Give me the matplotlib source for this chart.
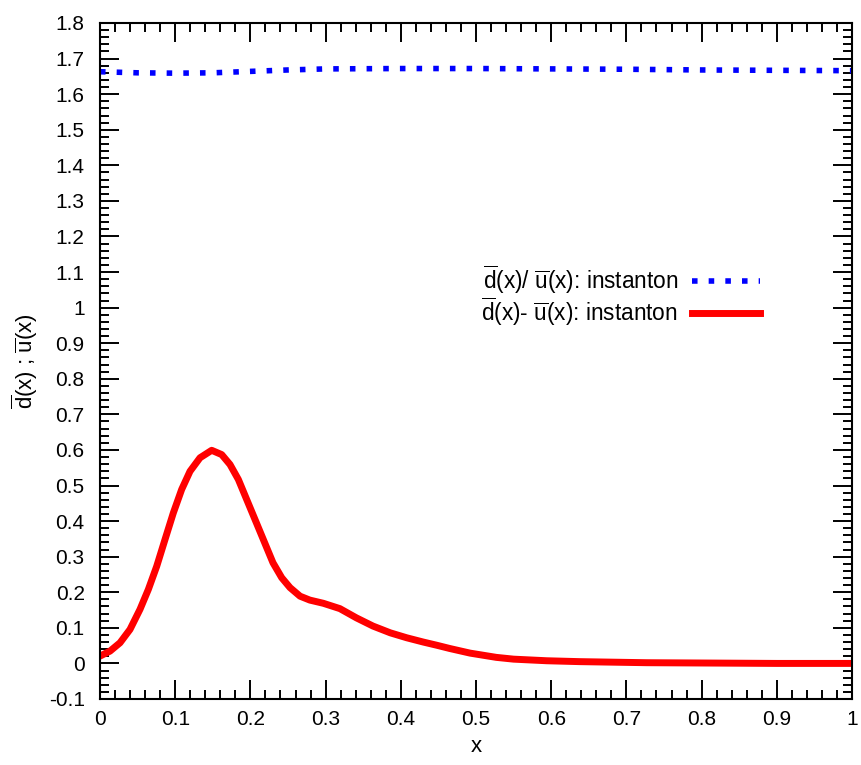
import matplotlib
matplotlib.use('Agg')
import matplotlib.pyplot as plt
from matplotlib.ticker import MultipleLocator

# ratio curve (blue dotted)
ratio_x = [0, 0.05, 0.1, 0.15, 0.2, 0.25, 0.3, 0.4, 0.5, 0.6, 0.7, 0.8, 0.9, 1.0]
ratio_y = [1.663, 1.660, 1.659, 1.660, 1.664, 1.668, 1.671, 1.672, 1.672, 1.671, 1.670, 1.668, 1.667, 1.666]

# difference curve (red solid)
diff_x = [0, 0.0133, 0.0266, 0.0399, 0.0532, 0.0643, 0.0754, 0.0864, 0.0975, 0.1086,
          0.1197, 0.133, 0.1485, 0.1618, 0.1729, 0.184, 0.195, 0.208, 0.219, 0.230,
          0.2416, 0.2527, 0.266, 0.279, 0.297, 0.319, 0.341, 0.363, 0.386, 0.408,
          0.43, 0.448, 0.465, 0.492, 0.527, 0.55, 0.594, 0.638, 0.727, 0.815, 0.9, 1.0]
diff_y = [0.0206, 0.0346, 0.058, 0.0955, 0.152, 0.208, 0.273, 0.348, 0.423, 0.489,
          0.540, 0.578, 0.599, 0.587, 0.559, 0.517, 0.461, 0.395, 0.339, 0.283,
          0.241, 0.213, 0.189, 0.178, 0.169, 0.154, 0.128, 0.105, 0.086, 0.072,
          0.060, 0.051, 0.042, 0.029, 0.017, 0.012, 0.0075, 0.005, 0.002, 0.001, 0.0, 0.0]

ratio_label = r'$\overline{\mathrm{d}}$(x)/ $\overline{\mathrm{u}}$(x): instanton'
diff_label = r'$\overline{\mathrm{d}}$(x)- $\overline{\mathrm{u}}$(x): instanton'
y_label = r'$\overline{\mathrm{d}}$(x) ; $\overline{\mathrm{u}}$(x)'

plt.rcParams['font.family'] = ['Liberation Sans', 'DejaVu Sans']
plt.rcParams['mathtext.fontset'] = 'custom'
plt.rcParams['mathtext.rm'] = 'Liberation Sans'
plt.rcParams['mathtext.it'] = 'Liberation Sans:italic'
plt.rcParams['mathtext.bf'] = 'Liberation Sans:bold'

fig = plt.figure(figsize=(8.61, 7.65), dpi=100)
ax = fig.add_axes([100 / 861, 66 / 765, 752 / 861, 676 / 765])

ax.plot(ratio_x, ratio_y, color='#0000ff', lw=4.0, linestyle=(0, (1, 2.0)),
        dash_capstyle='butt', label=ratio_label)
ax.plot(diff_x, diff_y, color='#ff0000', lw=5, solid_joinstyle='round', label=diff_label)

ax.set_xlim(0, 1)
ax.set_ylim(-0.1, 1.8)
ax.xaxis.set_minor_locator(MultipleLocator(0.02))
ax.yaxis.set_minor_locator(MultipleLocator(0.02))
ax.set_xticks([i / 10 for i in range(11)])
ax.set_xticklabels(['0', '0.1', '0.2', '0.3', '0.4', '0.5', '0.6', '0.7', '0.8', '0.9', '1'])
yt = [round(-0.1 + i * 0.1, 1) for i in range(20)]
ax.set_yticks(yt)
ax.set_yticklabels(['%g' % v for v in yt])

ax.tick_params(which='both', direction='in', top=True, right=True, width=1.4, labelsize=15)
ax.tick_params(which='major', length=13.5)
ax.tick_params(which='minor', length=6.5)
ax.tick_params(axis='x', pad=8)
ax.tick_params(axis='y', pad=11)
for s in ax.spines.values():
    s.set_linewidth(1.5)

ax.set_xlabel('x', fontsize=16, labelpad=5)
ax.set_ylabel(y_label, fontsize=16, labelpad=6)

ax.legend(loc='upper right', bbox_to_anchor=(0.877, 0.645), frameon=False, markerfirst=False,
          fontsize=16.3, handlelength=3.0, handletextpad=0.6, labelspacing=0.0,
          borderaxespad=0, borderpad=0)

fig.savefig('out.png', dpi=100)
